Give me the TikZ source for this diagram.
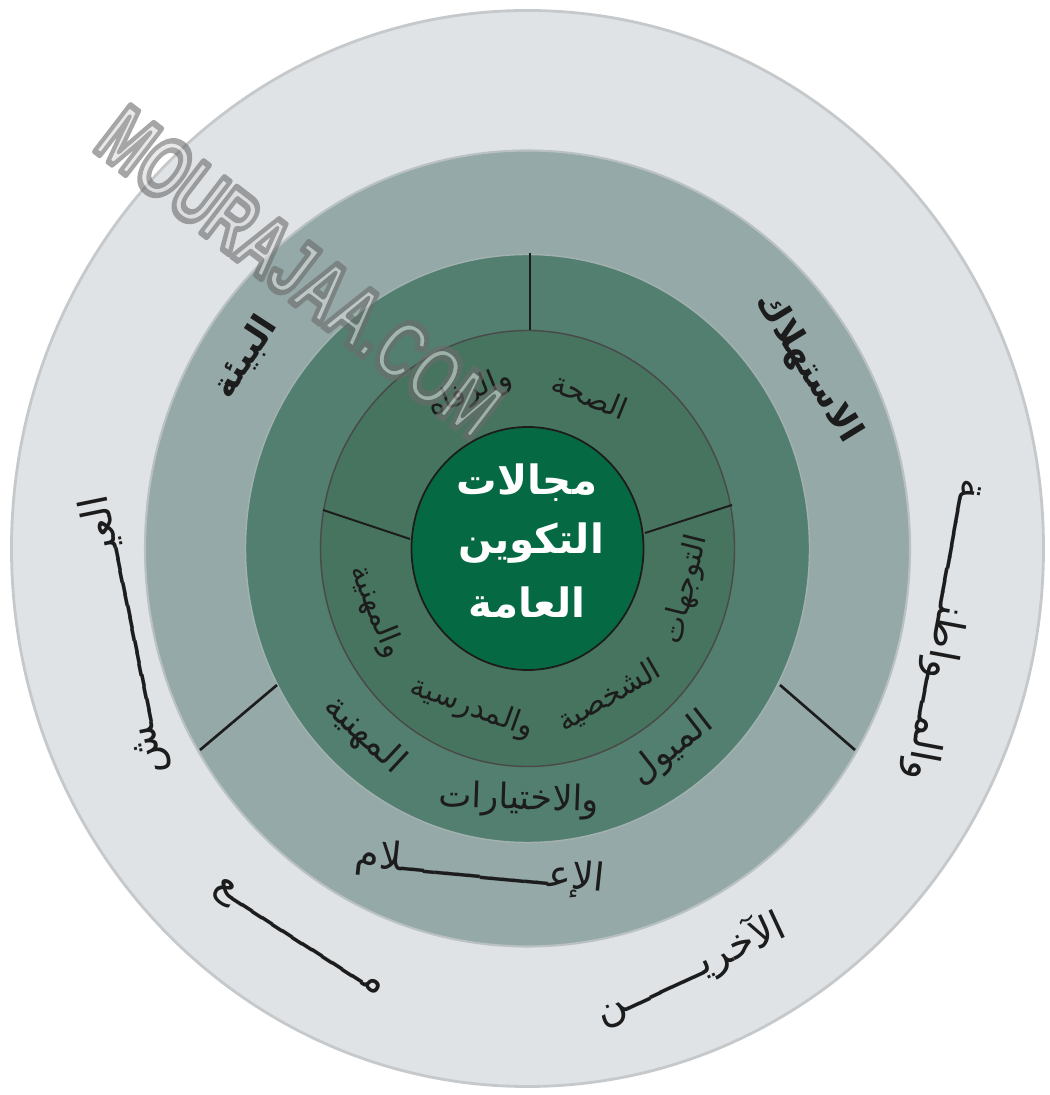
\documentclass[tikz,border=0pt]{standalone}
\usepackage{fontspec}
\setmainfont{DejaVu Sans}
\newfontfamily\arfont[Script=Arabic]{DejaVu Sans}
\newfontfamily\wmfont{Liberation Sans}
\TeXXeTstate=1
\definecolor{ringA}{HTML}{DFE3E6}
\definecolor{ringAedge}{HTML}{C6C9CB}
\definecolor{ringB}{HTML}{95A9A9}
\definecolor{ringBedge}{HTML}{BAC1C2}
\definecolor{ringC}{HTML}{527F6F}
\definecolor{ringCedge}{HTML}{A3B1AF}
\definecolor{ringD}{HTML}{46745F}
\definecolor{hub}{HTML}{056A43}
\definecolor{ink}{HTML}{1C1C1C}
\definecolor{wmlight}{HTML}{DADADA}
\tikzset{
  word/.style={inner sep=0pt, text=ink},
  outerword/.style={word, font=\arfont\fontsize{23}{28}\selectfont},
  midword/.style={word, font=\arfont\bfseries\fontsize{20}{24}\selectfont},
  medword/.style={word, font=\arfont\fontsize{22}{26}\selectfont},
  tealword/.style={word, font=\arfont\fontsize{20}{24}\selectfont},
  innerword/.style={word, font=\arfont\fontsize{17}{20}\selectfont},
  hubword/.style={inner sep=0pt, text=white, font=\arfont\bfseries\fontsize{23}{27}\selectfont},
  divider/.style={draw=ink, line width=1.5pt},
  thindivider/.style={draw=ink, line width=1.1pt},
  wmface/.style={inner sep=0pt, text=wmlight, font=\wmfont\bfseries\fontsize{48}{50}\selectfont}
}
\begin{document}
\begin{tikzpicture}[x=0.02cm,y=0.02cm]
\useasboundingbox (0,0) rectangle (1049,1095);
\fill[white] (0,0) rectangle (1049,1095);
\coordinate (C) at (527.5,546.5);
% rings
\filldraw[fill=ringA, draw=ringAedge, line width=1.6pt] (C) ellipse [x radius=516, y radius=538];
\filldraw[fill=ringB, draw=ringBedge, line width=1.2pt] (C) ellipse [x radius=382.5, y radius=398];
\filldraw[fill=ringC, draw=ringCedge, line width=0.8pt] (C) ellipse [x radius=282, y radius=294];
\filldraw[fill=ringD, draw=ink!80, line width=0.8pt] (C) ellipse [x radius=207, y radius=218];
\filldraw[fill=hub, draw=ink, line width=1pt] (C) ellipse [x radius=116, y radius=121.5];
% dividers
\coordinate (topA) at (530,842);
\coordinate (topB) at (530,765);
\coordinate (llA) at (200,345);
\coordinate (llB) at (277,410);
\coordinate (lrA) at (780,410);
\coordinate (lrB) at (855,345);
\coordinate (ilA) at (323,585);
\coordinate (ilB) at (410,556);
\coordinate (irA) at (645,562);
\coordinate (irB) at (732,590);
\draw[divider] (topA) -- (topB);
\draw[divider] (llA) -- (llB);
\draw[divider] (lrA) -- (lrB);
\draw[thindivider] (ilA) -- (ilB);
\draw[thindivider] (irA) -- (irB);
% hub text
\node[hubword] (hub1) at (527,612) {\beginR مجالات\endR};
\node[hubword] (hub2) at (531,552) {\beginR التكوين\endR};
\node[hubword] (hub3) at (527,492) {\beginR العامة\endR};
% inner ring, top
\node[innerword, rotate=-22] (inTopR) at (590,700) {\beginR الصحة\endR};
\node[innerword, rotate=22] (inTopL) at (470,702) {\beginR والرفاه\endR};
% inner ring, bottom
\node[innerword, rotate=76] (inB1) at (686,505) {\beginR التوجهات\endR};
\node[innerword, rotate=30] (inB2) at (609,399) {\beginR الشخصية\endR};
\node[innerword, rotate=-20] (inB3) at (472,387) {\beginR والمدرسية\endR};
\node[innerword, rotate=-68] (inB4) at (376,483) {\beginR والمهنية\endR};
% teal ring, bottom
\node[tealword, rotate=38] (tl1) at (672,346) {\beginR الميول\endR};
\node[tealword, rotate=-2] (tl2) at (519,295) {\beginR والاختيارات\endR};
\node[tealword, rotate=-43] (tl3) at (364,360) {\beginR المهنية\endR};
% middle ring
\node[midword, rotate=57] (envi) at (245,738) {\beginR البيئة\endR};
\node[midword, rotate=-58.4] (cons) at (808,727) {\beginR الاستهلاك\endR};
\node[medword, rotate=-6] (media) at (480,226) {\beginR الإعـــــــــــــلام\endR};
% outer ring
\node[outerword, rotate=101.6] (live) at (125,460) {\beginR العيـــــــــــــــش\endR};
\node[outerword, rotate=-33] (with) at (298,155) {\beginR مـــــــــــــع\endR};
\node[outerword, rotate=25] (others) at (690,127) {\beginR الآخريـــــــن\endR};
\node[outerword, rotate=-100.6] (citiz) at (945,465) {\beginR والمـــواطنـــــــــة\endR};
% watermark
\begin{scope}[transparency group, opacity=0.6]
\node[wmface, rotate=-37.5] (wm) at (300,823) {\special{pdf:literal direct 2 Tr 3.5 w 1 j 0.42 0.42 0.42 RG}\scalebox{0.68}[1]{MOURAJAA.COM}\special{pdf:literal direct 0 Tr}};
\end{scope}
\end{tikzpicture}
\end{document}
